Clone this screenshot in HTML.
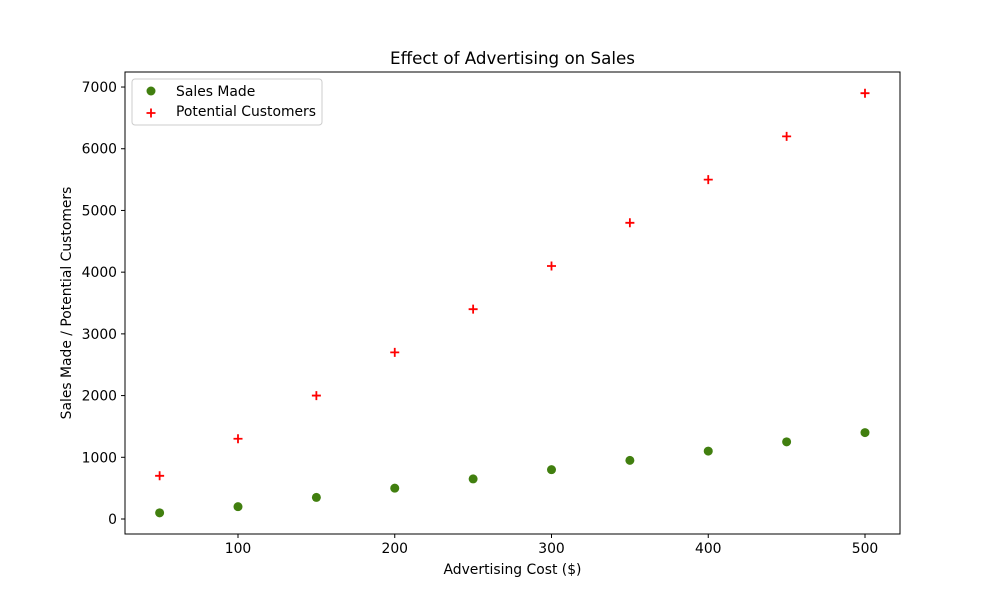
<!DOCTYPE html>
<html><head><meta charset="utf-8"><style>
body{margin:0;background:#fff;}
svg text{font-family:"DejaVu Sans","Liberation Sans",sans-serif;fill:#000;}
</style></head><body>
<svg id="chart" width="1000" height="600" xmlns="http://www.w3.org/2000/svg">
<rect width="1000" height="600" fill="#fff"/>
<text x="512.5" y="64" font-size="16.7" text-anchor="middle">Effect of Advertising on Sales</text>
<g id="ticks"></g>
<g id="marks"></g>
<rect x="125" y="72" width="775" height="462" fill="none" stroke="#000" stroke-width="1"/>
<text x="512.5" y="574" font-size="13.9" text-anchor="middle">Advertising Cost ($)</text>
<text transform="translate(71,303) rotate(-90)" font-size="13.9" text-anchor="middle">Sales Made / Potential Customers</text>
<g>
<rect x="132" y="79" width="190" height="46" rx="3" fill="#fff" stroke="#ccc"/>
<circle cx="151" cy="91" r="4.5" fill="#417f0f"/>
<text x="176" y="96" font-size="13.9">Sales Made</text>
<path d="M146.5,113h9M151,108.5v9" stroke="#f00" stroke-width="1.8"/>
<text x="176" y="116" font-size="13.9">Potential Customers</text>
</g>
</svg>
<script>
const costs=[50,100,150,200,250,300,350,400,450,500];
const salesMade=[100,200,350,500,650,800,950,1100,1250,1400];
const potentialCustomers=[700,1300,2000,2700,3400,4100,4800,5500,6200,6900];
const xTicks=[100,200,300,400,500];
const yTicks=[0,1000,2000,3000,4000,5000,6000,7000];
const NS="http://www.w3.org/2000/svg";
function xs(v){return 238+(v-100)*1.5675;}
function ys(v){return 519-v*0.06171;}
const tg=document.getElementById('ticks'),mg=document.getElementById('marks');
function mk(t,a,p){const e=document.createElementNS(NS,t);for(const k in a)e.setAttribute(k,a[k]);p.appendChild(e);return e;}
xTicks.forEach(v=>{const x=xs(v);
const l=mk('line',{x1:x,x2:x,y1:534,y2:538,stroke:'#000'},tg);


const t=mk('text',{x:x,y:553,'font-size':13.9,'text-anchor':'middle'},tg);t.textContent=v;

});
yTicks.forEach(v=>{const y=ys(v);
const l=mk('line',{x1:121,x2:125,y1:y,y2:y,stroke:'#000'},tg);


const t=mk('text',{x:117,y:y+5,'font-size':13.9,'text-anchor':'end'},tg);t.textContent=v;

});
costs.forEach((c,i)=>{
const p=mk('circle',{cx:xs(c),cy:ys(salesMade[i]),r:4.5,fill:'#417f0f'},mg);


const x=xs(c),y=ys(potentialCustomers[i]);
const q=mk('path',{d:`M${x-4.5},${y}h9M${x},${y-4.5}v9`,stroke:'#f00','stroke-width':1.8},mg);


});
</script>
</body></html>
